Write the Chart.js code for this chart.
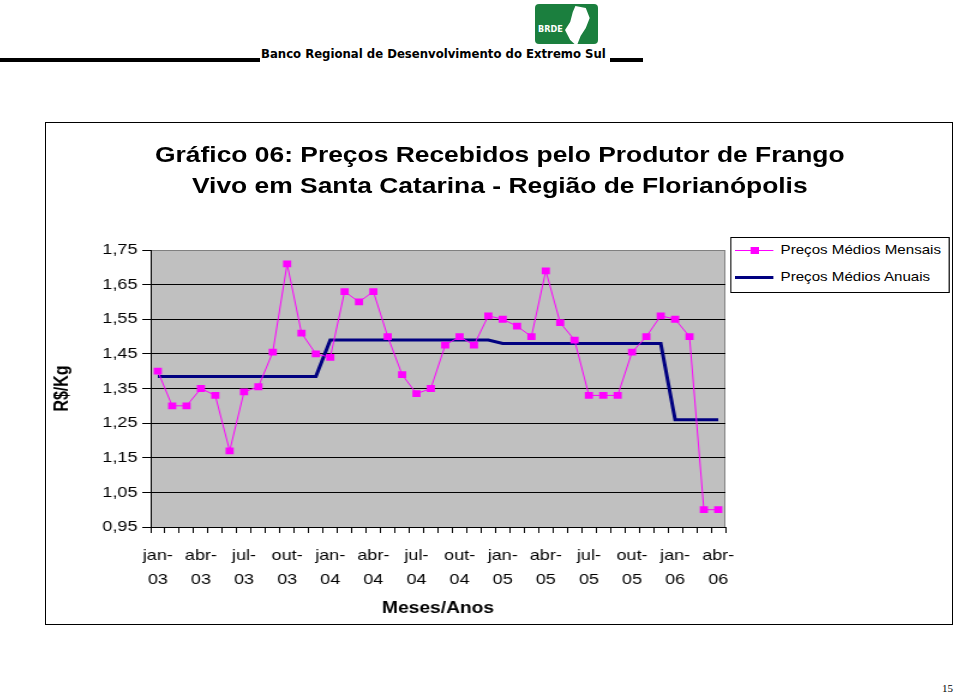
<!DOCTYPE html>
<html>
<head>
<meta charset="utf-8">
<script src="https://cdn.jsdelivr.net/npm/chart.js@4/dist/chart.umd.min.js"></script>
<style>
  body { margin: 0; background: #fff; width: 959px; height: 695px; position: relative; overflow: hidden; font-family: "Liberation Sans", Arial, sans-serif; }
  #logo { position: absolute; left: 535px; top: 4px; width: 63px; height: 40px; background: #1b7f3e; border-radius: 4px; }
  #logo span { position: absolute; left: 3px; top: 20px; color: #fff; font: bold 9px "DejaVu Sans Condensed", sans-serif; }
  #logo i { position: absolute; left: 30px; top: 2px; width: 26px; height: 40px; background: #fff; clip-path: polygon(40% 0, 80% 5%, 95% 30%, 80% 55%, 60% 75%, 45% 100%, 20% 85%, 0 60%, 20% 40%, 30% 15%); }
  #bank { position: absolute; left: 261px; top: 46px; font: bold 13px "Liberation Sans Narrow", "DejaVu Sans Condensed", sans-serif; letter-spacing: 0; white-space: nowrap; }
  .bar { position: absolute; height: 4px; background: #000; top: 58px; }
  #box { position: absolute; left: 45px; top: 122px; width: 908px; height: 503px; border: 1px solid #000; box-sizing: border-box; }
  #inner { position: absolute; left: -1px; top: -1px; width: 757px; height: 503px; transform: scaleX(1.2); transform-origin: 0 0; }
  #title { position: absolute; left: 0; top: 17px; width: 758px; text-align: center; font: bold 22px/31px "Liberation Sans", Arial, sans-serif; color: #000; }
  #legend { position: absolute; left: 571px; top: 115px; width: 183px; height: 56px; border: 1px solid #000; background: #fff; box-sizing: border-box; font: 12.6px "Liberation Sans", Arial, sans-serif; }
  .row { position: absolute; left: 0; height: 20px; width: 100%; }
  .row .ln { position: absolute; left: 3px; width: 32px; }
  .row .tx { position: absolute; left: 41px; top: 2px; white-space: nowrap; }
  #page { position: absolute; left: 942px; top: 682px; font: 11px "Liberation Serif", serif; }
</style>
</head>
<body>
<div id="logo"><i></i><span>BRDE</span></div>
<div class="bar" style="left:0;width:260px"></div>
<div id="bank">Banco Regional de Desenvolvimento do Extremo Sul</div>
<div class="bar" style="left:610px;width:33px"></div>

<div id="box">
  <div id="inner">
    <canvas id="chart" width="757" height="503"></canvas>
    <div id="title">Gráfico 06: Preços Recebidos pelo Produtor de Frango<br>Vivo em Santa Catarina - Região de Florianópolis</div>
    <div id="legend">
      <div class="row" style="top:3px">
        <div class="ln" style="top:9px;height:1px;background:#ff00ff"></div>
        <div style="position:absolute;left:16px;top:6px;width:7px;height:7px;background:#ff00ff"></div>
        <div class="tx" id="lg0"></div>
      </div>
      <div class="row" style="top:30px">
        <div class="ln" style="top:8px;height:3px;background:#000080"></div>
        <div class="tx" id="lg1"></div>
      </div>
    </div>
  </div>
</div>
<div id="page">15</div>

<script>
// meses jan-03 .. abr-06
const meses = ['jan-03', 'fev-03', 'mar-03', 'abr-03', 'mai-03', 'jun-03', 'jul-03', 'ago-03', 'set-03', 'out-03', 'nov-03', 'dez-03',
    'jan-04', 'fev-04', 'mar-04', 'abr-04', 'mai-04', 'jun-04', 'jul-04', 'ago-04', 'set-04', 'out-04', 'nov-04', 'dez-04',
    'jan-05', 'fev-05', 'mar-05', 'abr-05', 'mai-05', 'jun-05', 'jul-05', 'ago-05', 'set-05', 'out-05', 'nov-05', 'dez-05',
    'jan-06', 'fev-06', 'mar-06', 'abr-06'];

const mensais = [1.40, 1.30, 1.30, 1.35, 1.33, 1.17, 1.34, 1.355, 1.455, 1.71, 1.51, 1.45,
    1.44, 1.63, 1.60, 1.63, 1.50, 1.39, 1.335, 1.35, 1.475, 1.50, 1.475, 1.56,
    1.55, 1.53, 1.50, 1.69, 1.54, 1.49, 1.33, 1.33, 1.33, 1.455, 1.50, 1.56,
    1.55, 1.50, 1.00, 1.00];

const anos = ['03', '04', '05', '06'];
const anuais = [1.385, 1.49, 1.48, 1.26];

const yTicks = [0.95, 1.05, 1.15, 1.25, 1.35, 1.45, 1.55, 1.65, 1.75];
const nomes = ['Preços Médios Mensais', 'Preços Médios Anuais'];

// media anual repetida em cada mes
const anuaisMes = meses.map(m => anuais[anos.indexOf(m.split('-')[1])]);

document.getElementById('lg0').textContent = nomes[0];
document.getElementById('lg1').textContent = nomes[1];

const plotBg = {
    id: 'plotBg',
    beforeDraw(chart) {
        const { ctx, chartArea: a } = chart;
        ctx.save();
        ctx.fillStyle = '#c0c0c0';
        ctx.fillRect(a.left, a.top, a.right - a.left, a.bottom - a.top);
        ctx.strokeStyle = '#808080';
        ctx.lineWidth = 1;
        ctx.beginPath();
        ctx.moveTo(a.right - 0.5, a.top);
        ctx.lineTo(a.right - 0.5, a.bottom);
        ctx.stroke();
        ctx.restore();
    }
};

const fonte = { family: '"Liberation Sans", Arial, sans-serif', size: 15 };

new Chart(document.getElementById('chart'), {
    type: 'line',
    data: {
        labels: meses,
        datasets: [
            {
                label: nomes[0],
                data: mensais,
                borderColor: '#ff00ff',
                backgroundColor: '#ff00ff',
                borderWidth: 1,
                pointStyle: 'rect',
                pointRadius: 4.8,
                pointBorderWidth: 0,
                tension: 0
            },
            {
                label: nomes[1],
                data: anuaisMes,
                borderColor: '#000080',
                borderWidth: 3,
                pointRadius: 0,
                tension: 0
            }
        ]
    },
    options: {
        responsive: false,
        devicePixelRatio: 1,
        animation: false,
        layout: { padding: { left: 0, right: 190, top: 128, bottom: 0 } },
        plugins: {
            legend: { display: false },
            tooltip: { enabled: false }
        },
        scales: {
            x: {
                offset: true,
                grid: { offset: true, drawOnChartArea: false, color: '#000', tickLength: 6 },
                border: { color: '#000', width: 1 },
                ticks: {
                    autoSkip: false,
                    maxRotation: 0,
                    color: '#000',
                    padding: 10,
                    font: { ...fonte, lineHeight: 1.65 },
                    callback(v, i) {
                        return i % 3 === 0 ? [meses[i].split('-')[0] + '-', meses[i].split('-')[1]] : '';
                    }
                },
                title: {
                    display: true,
                    text: 'Meses/Anos',
                    color: '#000',
                    font: { ...fonte, size: 16, weight: 'bold' },
                    padding: { top: 0, bottom: 7 }
                },
                afterFit(s) { s.height = 98; }
            },
            y: {
                min: 0.95,
                max: 1.75,
                afterBuildTicks(s) { s.ticks = yTicks.map(v => ({ value: v })); },
                grid: {
                    color: c => (c.tick && c.tick.value === 1.75 ? '#808080' : '#000'),
                    tickColor: '#000',
                    tickLength: 7
                },
                border: { color: '#000', width: 1 },
                ticks: {
                    color: '#000',
                    padding: 4,
                    font: fonte,
                    callback: v => v.toFixed(2).replace('.', ',')
                },
                title: {
                    display: true,
                    text: 'R$/Kg',
                    color: '#000',
                    font: { ...fonte, size: 16, weight: 'bold' },
                    padding: { top: 5, bottom: 0 }
                },
                afterFit(s) { s.width = 88; }
            }
        }
    },
    plugins: [plotBg]
});
</script>
</body>
</html>
